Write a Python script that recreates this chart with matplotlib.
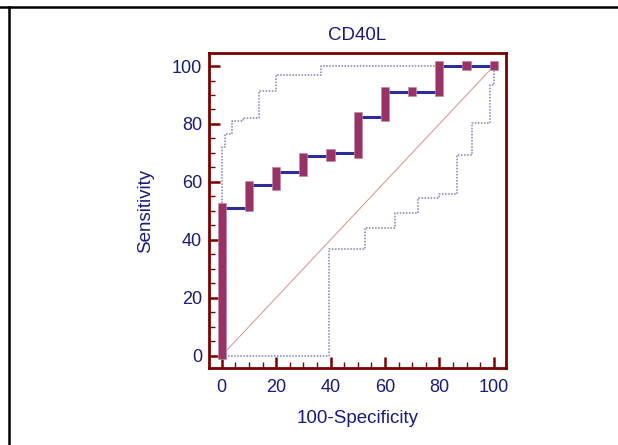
import matplotlib
matplotlib.use("Agg")
import matplotlib.pyplot as plt
from matplotlib.lines import Line2D
from matplotlib.ticker import MultipleLocator

# ROC curve (criterion points), 100-specificity vs sensitivity
fpr = [0, 0, 10, 20, 30, 40, 50, 60, 70, 80, 90, 100]
sens = [0, 51.1, 58.9, 63.4, 69.0, 69.9, 82.4, 91.1, 91.1, 100, 100, 100]

# boxes at each criterion point (low / high)
box_x = [0, 10, 20, 30, 40, 50, 60, 70, 80, 90, 100]
box_low = [-1.1, 49.8, 57.2, 62.1, 67.2, 68.4, 81.0, 89.5, 89.8, 98.5, 98.5]
box_high = [52.7, 60.2, 65.1, 70.1, 71.4, 84.0, 92.6, 92.6, 101.7, 101.7, 101.7]

# confidence bounds
upper_x = [0, 1, 3.9, 7.7, 13.5, 20, 36.4, 100]
upper_y = [0, 72.2, 76.6, 81.0, 82.2, 91.5, 96.9, 100]
lower_x = [0, 39.6, 52.8, 63.6, 72.3, 79.9, 86.6, 91.9, 98.6, 100]
lower_y = [0, 36.8, 44.0, 49.2, 54.4, 55.8, 69.4, 80.2, 93.4, 100]

text_color = "#1a1a80"
frame_color = "#7a0000"

plt.rcParams["font.family"] = ["Liberation Sans", "DejaVu Sans"]

fig = plt.figure(figsize=(6.18, 4.45), dpi=100)
ax = fig.add_axes([209 / 618, 1 - 368 / 445, 297 / 618, 315 / 445])

ax.plot([0, 100], [0, 100], color="#d89090", lw=0.7, zorder=1)
ax.plot(upper_x, upper_y, drawstyle="steps-pre", color="#7f7fc0",
        lw=1.1, ls=(0, (1, 1)), zorder=2)
ax.plot(lower_x, lower_y, drawstyle="steps-post", color="#7f7fc0",
        lw=1.1, ls=(0, (1, 1)), zorder=2)
ax.plot(fpr, sens, drawstyle="steps-post", color="#2e2e9a", lw=2.2, zorder=3)

heights = [h - l for h, l in zip(box_high, box_low)]
ax.bar(box_x, heights, bottom=box_low, width=3.0, color="#993366",
       edgecolor="#c08aa8", linewidth=0.5, zorder=4)

ax.set_xlim(-4.7, 104.5)
ax.set_ylim(-4.3, 104.5)

ax.xaxis.set_major_locator(MultipleLocator(20))
ax.xaxis.set_minor_locator(MultipleLocator(5))
ax.yaxis.set_major_locator(MultipleLocator(20))
ax.yaxis.set_minor_locator(MultipleLocator(5))
ax.tick_params(which="major", direction="in", length=8, width=1.8,
               color=frame_color, labelsize=13, labelcolor=text_color)
ax.tick_params(which="minor", direction="in", length=4.5, width=1.0,
               color=frame_color)
ax.tick_params(axis="x", which="both", top=False, pad=8)
ax.tick_params(axis="y", which="both", right=False, pad=5)

for s in ax.spines.values():
    s.set_color(frame_color)
    s.set_linewidth(2.0)

ax.set_title("CD40L", fontsize=13.5, color=text_color, pad=9)
ax.set_xlabel("100-Specificity", fontsize=13.5, color=text_color, labelpad=10)
ax.set_ylabel("Sensitivity", fontsize=13.5, color=text_color, labelpad=13)

# outer frame lines of the picture
fig.add_artist(Line2D([0, 1], [1 - 6.5 / 445] * 2, color="black", lw=1.8,
                      transform=fig.transFigure))
fig.add_artist(Line2D([9 / 618] * 2, [0, 1 - 6.5 / 445], color="black", lw=1.8,
                      transform=fig.transFigure))

fig.savefig("out.png", dpi=100)
